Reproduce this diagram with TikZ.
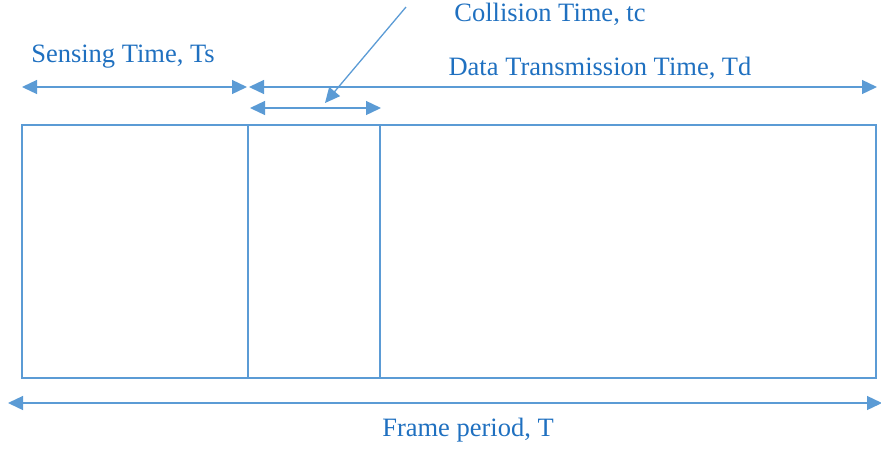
\documentclass[tikz,border=0pt]{standalone}
\usepackage{fontspec}
\setmainfont{Liberation Serif}
\usetikzlibrary{arrows.meta}
\definecolor{lineblue}{HTML}{5B9BD5}
\definecolor{textblue}{HTML}{1F70C0}
\tikzset{
  ln/.style={draw=lineblue, line width=1.3pt},
  dim/.style={ln, {Triangle[length=15pt,width=14pt]}-{Triangle[length=15pt,width=14pt]}},
  lbl/.style={text=textblue, font=\fontsize{26.5}{30}\selectfont, inner sep=0pt, anchor=center}
}
\begin{document}
\begin{tikzpicture}[x=1pt,y=-1pt]
\useasboundingbox (0,0) rectangle (881,448);
% frame box
\draw[ln] (22,125) rectangle (876,378);
\coordinate (d1t) at (248,125); \coordinate (d1b) at (248,378);
\coordinate (d2t) at (380,125); \coordinate (d2b) at (380,378);
\draw[ln] (d1t) -- (d1b);
\draw[ln] (d2t) -- (d2b);
% dimension arrows
\coordinate (sa) at (22,87); \coordinate (sb) at (247,87);
\coordinate (da) at (249,87); \coordinate (db) at (877,87);
\coordinate (ca) at (250,108); \coordinate (cb) at (381,108);
\coordinate (fa) at (8,403); \coordinate (fb) at (882,403);
\draw[dim] (sa) -- (sb);
\draw[dim] (da) -- (db);
\draw[dim] (ca) -- (cb);
\draw[dim] (fa) -- (fb);
% pointer
\coordinate (p0) at (406,7); \coordinate (p1) at (325,103);
\draw[ln, -{Triangle[length=15pt,width=14pt]}] (p0) -- (p1);
% labels
\node[lbl] (ts) at (123,57) {Sensing Time, Ts};
\node[lbl] (tc) at (550,14) {Collision Time, tc};
\node[lbl] (td) at (600,68) {Data Transmission Time, Td};
\node[lbl] (fp) at (468,430) {Frame period, T};
\end{tikzpicture}
\end{document}
